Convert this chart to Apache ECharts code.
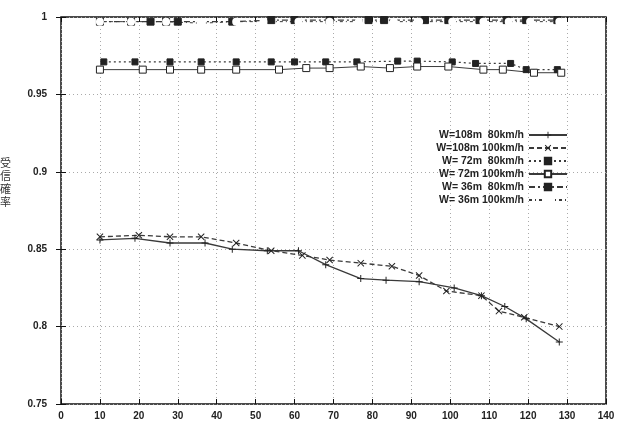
<!DOCTYPE html>
<html>
<head>
<meta charset="utf-8">
<script src="https://cdn.jsdelivr.net/npm/echarts@6/dist/echarts.min.js"></script>
<style>
  html, body { margin: 0; padding: 0; background: #fff; }
  #chart { width: 625px; height: 429px; }
</style>
</head>
<body>
<div id="chart"></div>
<script>
// series names (legend order)
var names = [
    'W=108m  80km/h',
    'W=108m 100km/h',
    'W= 72m  80km/h',
    'W= 72m 100km/h',
    'W= 36m  80km/h',
    'W= 36m 100km/h'
];

// [distance, probability] pairs
var w108v80 = [[10, 0.856], [19, 0.857], [28, 0.854], [37, 0.854], [44, 0.850], [53, 0.849], [61, 0.849],
    [68, 0.840], [77, 0.831], [83.5, 0.830], [92, 0.829], [101, 0.825], [108, 0.820], [114, 0.813],
    [119.5, 0.805], [128, 0.790]];
var w108v100 = [[10, 0.858], [20, 0.859], [28, 0.858], [36, 0.858], [45, 0.854], [54, 0.849], [62, 0.846],
    [69, 0.843], [77, 0.841], [85, 0.839], [92, 0.833], [99, 0.823], [108, 0.820], [112.5, 0.810],
    [119, 0.806], [128, 0.800]];
var w72v80 = [[11, 0.971], [19, 0.971], [28, 0.971], [36, 0.971], [45, 0.971], [54, 0.971], [60, 0.971],
    [68, 0.971], [76, 0.971], [86.5, 0.9715], [91.5, 0.9715], [100.5, 0.971], [106.5, 0.970],
    [115.5, 0.970], [119.5, 0.966], [127.5, 0.966]];
var w72v100 = [[10, 0.966], [21, 0.966], [28, 0.966], [36, 0.966], [45, 0.966], [56, 0.966], [63, 0.967],
    [69, 0.967], [77, 0.968], [84.5, 0.967], [91.5, 0.968], [99.5, 0.968], [108.5, 0.966],
    [113.5, 0.966], [121.5, 0.964], [128.5, 0.964]];
var w36v80 = [[10, 0.997], [18, 0.997], [23, 0.997], [27, 0.997], [30, 0.997], [44, 0.997], [54, 0.998],
    [60, 0.998], [69, 0.998], [79, 0.998], [83, 0.998], [93.5, 0.998], [99.5, 0.998], [107.5, 0.998],
    [114.5, 0.998], [119.5, 0.998], [127.5, 0.998]];
var w36v100 = [[10, 0.997], [18, 0.997], [27, 0.997], [36, 0.996], [45, 0.997], [52, 0.997], [61, 0.997],
    [69, 0.997], [76.5, 0.997], [85.5, 0.997], [92, 0.997], [100.5, 0.997], [108.5, 0.997],
    [115, 0.997], [120.5, 0.997], [128, 0.997]];

var xTicks = [0, 10, 20, 30, 40, 50, 60, 70, 80, 90, 100, 110, 120, 130, 140];
var yTicks = ['0.75', '0.8', '0.85', '0.9', '0.95', '1'];
var yTitle = ['受', '信', '確', '率'];

var plusPath = 'path://M4.3,0H5.7V4.3H10V5.7H5.7V10H4.3V5.7H0V4.3H4.3Z';
var crossPath = 'path://M1,0L5,4L9,0L10,1L6,5L10,9L9,10L5,6L1,10L0,9L4,5L0,1Z';

var chart = echarts.init(document.getElementById('chart'));

function mk(name, data, lineType, symbol, size, fill, width) {
    return {
        name: name,
        type: 'line',
        data: data,
        symbol: symbol,
        symbolSize: size,
        showSymbol: true,
        animation: false,
        lineStyle: { color: '#3a3a3a', width: width, type: lineType },
        itemStyle: { color: fill, borderColor: '#222', borderWidth: symbol === 'rect' || symbol === 'emptyCircle' ? 1 : 0 },
        emphasis: { disabled: true }
    };
}

var labelFont = { color: '#222', fontSize: 10, fontWeight: 'bold', fontFamily: 'Liberation Sans, Arial, sans-serif' };

// vertical axis title, one upright character per line
var titleParts = yTitle.map(function (ch, i) {
    return {
        type: 'text',
        left: 0,
        top: 157 + i * 13,
        style: { text: ch, fontSize: 11, fill: '#333', fontFamily: 'Noto Sans CJK JP' }
    };
});

chart.setOption({
    backgroundColor: '#fff',
    animation: false,
    grid: { left: 61, right: 19, top: 17, bottom: 25, show: true, borderColor: '#111', borderWidth: 1.5 },
    legend: {
        orient: 'vertical',
        right: 52,
        top: 124,
        align: 'right',
        itemWidth: 38,
        itemHeight: 8,
        itemGap: 1,
        textStyle: {
            color: '#222', fontSize: 10.5, fontWeight: 'bold', lineHeight: 12,
            fontFamily: 'Liberation Sans, Arial, sans-serif',
            width: 108, align: 'right'
        },
        data: names
    },
    graphic: titleParts,
    xAxis: [{
        type: 'value',
        min: 0,
        max: 140,
        interval: 10,
        axisLine: { show: false },
        axisTick: { inside: true, length: 5, lineStyle: { color: '#111' } },
        splitLine: { show: true, lineStyle: { color: '#aaa', type: [1, 3] } },
        axisLabel: Object.assign({
            margin: 7,
            formatter: function (v) { return xTicks.indexOf(v) >= 0 ? String(v) : ''; }
        }, labelFont)
    }, {
        type: 'value',
        position: 'top',
        min: 0,
        max: 140,
        interval: 10,
        axisLine: { show: false },
        axisTick: { inside: true, length: 5, lineStyle: { color: '#111' } },
        axisLabel: { show: false },
        splitLine: { show: false }
    }],
    yAxis: [{
        type: 'value',
        min: 0.75,
        max: 1,
        interval: 0.05,
        axisLine: { show: false },
        axisTick: { inside: true, length: 5, lineStyle: { color: '#111' } },
        splitLine: { show: true, lineStyle: { color: '#aaa', type: [1, 3] } },
        axisLabel: Object.assign({
            margin: 14,
            formatter: function (v) {
                var i = Math.round((v - 0.75) / 0.05);
                return yTicks[i] || '';
            }
        }, labelFont)
    }, {
        type: 'value',
        position: 'right',
        min: 0.75,
        max: 1,
        interval: 0.05,
        axisLine: { show: false },
        axisTick: { inside: true, length: 5, lineStyle: { color: '#111' } },
        axisLabel: { show: false },
        splitLine: { show: false }
    }],
    series: [
        mk(names[0], w108v80, 'solid', plusPath, 7, '#222', 1.3),
        mk(names[1], w108v100, [5, 3], crossPath, 7, '#222', 1.3),
        mk(names[2], w72v80, [2, 3], 'rect', 6, '#222', 1.2),
        mk(names[3], w72v100, 'solid', 'rect', 7, '#fff', 1),
        mk(names[4], w36v80, [6, 3, 2, 3], 'rect', 7, '#222', 1.2),
        mk(names[5], w36v100, [3, 3, 1, 3], 'emptyCircle', 6, '#fff', 1)
    ]
});
</script>
</body>
</html>
